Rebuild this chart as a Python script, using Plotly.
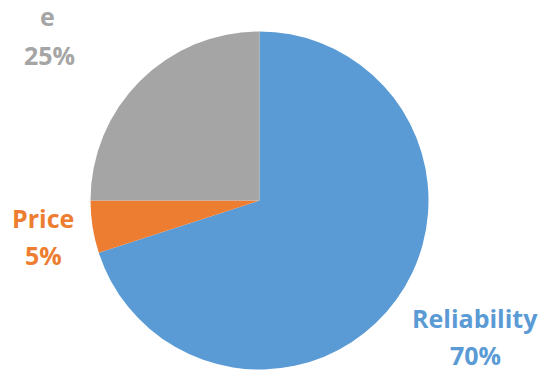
import plotly.graph_objects as go

categories = ["Reliability", "Price", "e"]
values = [70, 5, 25]
colors = ["#5B9BD5", "#ED7D31", "#A5A5A5"]

W, H = 544, 371

fig = go.Figure()
fig.add_trace(go.Pie(
    labels=categories,
    values=values,
    sort=False,
    direction="clockwise",
    rotation=0,
    marker=dict(colors=colors, line=dict(width=0)),
    textinfo="none",
    hoverinfo="label+percent",
    showlegend=False,
    domain=dict(x=[90.5 / W, 428.5 / W], y=[1.5 / H, 339.5 / H]),
))

# label positions (pixel centers) for name line and percent line
label_pos = {
    "Reliability": ((475, 318), (475, 355)),
    "Price": ((43, 218), (43, 255)),
    "e": ((47, 16), (49, 55)),
}

font_family = "Open Sans"
fsize = 25
annotations = []
for cat, val, col in zip(categories, values, colors):
    (nx, ny), (px, py) = label_pos[cat]
    annotations.append(dict(
        x=nx / W, y=1 - ny / H, xref="paper", yref="paper",
        text=f"<b>{cat}</b>", showarrow=False, xanchor="center", yanchor="middle",
        font=dict(family=font_family, size=fsize, color=col),
    ))
    annotations.append(dict(
        x=px / W, y=1 - py / H, xref="paper", yref="paper",
        text=f"<b>{val}%</b>", showarrow=False, xanchor="center", yanchor="middle",
        font=dict(family=font_family, size=fsize, color=col),
    ))

fig.update_layout(
    width=W, height=H,
    margin=dict(l=0, r=0, t=0, b=0),
    paper_bgcolor="white",
    plot_bgcolor="white",
    annotations=annotations,
)

fig.write_html("out.html")
